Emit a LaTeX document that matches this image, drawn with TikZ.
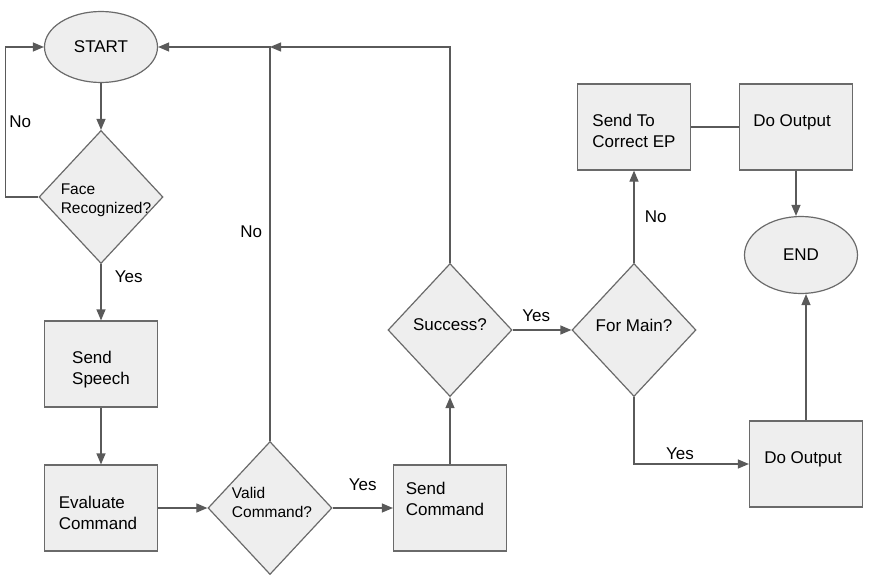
\documentclass[tikz,border=0pt]{standalone}
\usepackage{fontspec}
\setmainfont{Liberation Sans}
\usepackage{xcolor}
\usetikzlibrary{positioning,arrows.meta,shapes.geometric}

\definecolor{boxfill}{HTML}{EEEEEE}
\definecolor{boxline}{HTML}{6A6A6A}
\definecolor{wire}{HTML}{5A5A5A}

\begin{document}
\begin{tikzpicture}[x=1pt,y=-1pt,on grid,auto,
        >={Triangle[length=11pt,width=9pt]},
        every edge/.style={draw=wire,line width=1.2pt}]
            \tikzstyle{every node}=[font=\fontsize{17}{21}\selectfont]
            \tikzstyle{block}=[rectangle, draw=boxline, fill=boxfill, line width=1.2pt, minimum width=113pt, minimum height=86pt, align=left]
            \tikzstyle{decision}=[diamond, draw=boxline, fill=boxfill, line width=1.2pt, minimum width=124pt, minimum height=133pt, inner sep=0pt, align=left]
            \tikzstyle{terminal}=[ellipse, draw=boxline, fill=boxfill, line width=1.2pt, minimum width=113pt, minimum height=71pt]
            \tikzstyle{smalltxt}=[font=\fontsize{15.5}{19}\selectfont]
            \tikzstyle{txt}=[align=left]
            \tikzstyle{line}=[draw=wire, line width=1.2pt]
            \useasboundingbox (0,0) rectangle (884,586);

            \node[terminal] (start) at (101,47) {START};
            \node[decision, label={[txt, smalltxt, xshift=5pt, yshift=-3pt]center:Face\\Recognized?}]
                (face)     [below = 150pt of start]   {};
            \node[block, label={[txt, yshift=-6pt]center:Send\\Speech}]
                (speech)   [below = 167pt of face]    {};
            \node[block, label={[txt, xshift=-3pt, yshift=-5pt]center:Evaluate\\Command}]
                (evaluate) [below = 144pt of speech]  {};
            \node[decision, label={[txt, smalltxt, xshift=2pt, yshift=6pt]center:Valid\\Command?}]
                (valid)    [right = 169pt of evaluate] {};
            \node[block, label={[txt, xshift=-5pt, yshift=9pt]center:Send\\Command}]
                (sendcmd)  [right = 180pt of valid]   {};
            \node[decision, label={[txt, yshift=5pt]center:Success?}]
                (success)  [above = 178pt of sendcmd] {};
            \node[decision, label={[txt, yshift=5pt]center:For Main?}]
                (formain)  [right = 184pt of success] {};
            \node[block, label={[txt, yshift=-4pt]center:Send To\\Correct EP}]
                (sendep)   [above = 203pt of formain] {};
            \node[block, label={[txt, xshift=-4pt, yshift=5pt]center:Do Output}]
                (outtop)   [right = 162pt of sendep]  {};
            \node[terminal, minimum height=77pt] (endnode) [below right = 128pt and 5pt of outtop] {END};
            \node[block, label={[txt, xshift=-3pt, yshift=5pt]center:Do Output}]
                (outbot)   [below right = 209pt and 5pt of endnode] {};

            \path[->]
            (start)        edge                            (face)
            (face)         edge node[pos=0.22, right=10pt] {Yes} (speech)
            (speech)       edge                            (evaluate)
            (evaluate)     edge                            (valid)
            (valid)        edge node[above=13pt]           {Yes} (sendcmd)
            (sendcmd)      edge                            (success)
            (success)      edge node[pos=0.4, above=4pt]   {Yes} (formain)
            (formain)      edge node[right=7pt]            {No}  (sendep)
            (outtop.south) edge                            (outtop.south |- endnode.north)
            (outbot.north) edge                            (outbot.north |- endnode.south)
            ;

            \draw[->, line] (face.west) -- ++(-33,0) |- (start.west) node[pos=0.25, right] {No};
            \draw[->, line] (valid.north) |- (start.east) node[pos=0.265, left=4pt] {No};
            \draw[->, line] (success.north) |- (valid.north |- start.east);
            \draw[line] (sendep) -- (outtop);
            \draw[->, line] (formain.south) |- (outbot.west) node[pos=0.7, above] {Yes};
        \end{tikzpicture}
\end{document}
